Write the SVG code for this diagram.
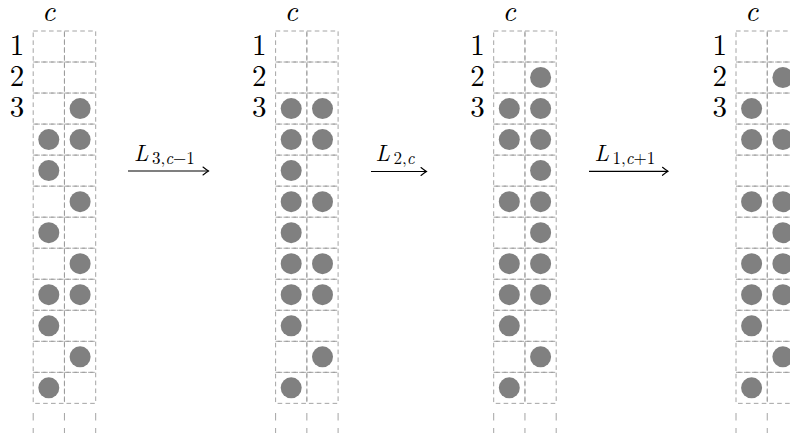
<svg xmlns="http://www.w3.org/2000/svg" xmlns:xlink="http://www.w3.org/1999/xlink" width="790" height="433" viewBox="0 0 790 433">
<style>
.cell{fill:none;stroke:#9a9a9a;stroke-width:0.9;stroke-dasharray:4.6 3.3}
.tail{fill:none;stroke:#9a9a9a;stroke-width:0.9;stroke-dasharray:7.5 7.5}
.st{fill:#808080}
.arr{fill:none;stroke:#000;stroke-width:1.2}
</style>
<defs>
<marker id="ah" markerUnits="userSpaceOnUse" markerWidth="12" markerHeight="12" viewBox="-7 -6 9 12" refX="0" refY="0" orient="auto">
<path d="M-5.5,-4 Q-1.8,-1 0,0 Q-1.8,1 -5.5,4" fill="none" stroke="#000" stroke-width="1.1" stroke-linecap="round"/>
</marker>
<g id="skel">
<rect class="cell" x="0" y="31" width="31.25" height="31.03"/><rect class="cell" x="31.25" y="31" width="31.25" height="31.03"/>
<rect class="cell" x="0" y="62.03" width="31.25" height="31.03"/><rect class="cell" x="31.25" y="62.03" width="31.25" height="31.03"/>
<rect class="cell" x="0" y="93.06" width="31.25" height="31.03"/><rect class="cell" x="31.25" y="93.06" width="31.25" height="31.03"/>
<rect class="cell" x="0" y="124.09" width="31.25" height="31.03"/><rect class="cell" x="31.25" y="124.09" width="31.25" height="31.03"/>
<rect class="cell" x="0" y="155.12" width="31.25" height="31.03"/><rect class="cell" x="31.25" y="155.12" width="31.25" height="31.03"/>
<rect class="cell" x="0" y="186.15" width="31.25" height="31.03"/><rect class="cell" x="31.25" y="186.15" width="31.25" height="31.03"/>
<rect class="cell" x="0" y="217.18" width="31.25" height="31.03"/><rect class="cell" x="31.25" y="217.18" width="31.25" height="31.03"/>
<rect class="cell" x="0" y="248.21" width="31.25" height="31.03"/><rect class="cell" x="31.25" y="248.21" width="31.25" height="31.03"/>
<rect class="cell" x="0" y="279.24" width="31.25" height="31.03"/><rect class="cell" x="31.25" y="279.24" width="31.25" height="31.03"/>
<rect class="cell" x="0" y="310.27" width="31.25" height="31.03"/><rect class="cell" x="31.25" y="310.27" width="31.25" height="31.03"/>
<rect class="cell" x="0" y="341.3" width="31.25" height="31.03"/><rect class="cell" x="31.25" y="341.3" width="31.25" height="31.03"/>
<rect class="cell" x="0" y="372.33" width="31.25" height="31.03"/><rect class="cell" x="31.25" y="372.33" width="31.25" height="31.03"/>
<path class="tail" d="M0,413V440M31.25,413V440M62.5,413V440"/>
<g font-family="Latin Modern Roman, Liberation Serif, serif" font-size="29" fill="#000">
<text x="15.6" y="21" text-anchor="middle" font-style="italic">c</text>
<text x="-9" y="55" text-anchor="end">1</text>
<text x="-9" y="86" text-anchor="end">2</text>
<text x="-9" y="117" text-anchor="end">3</text>
</g>
</g>
</defs>

<g id="grid1" transform="translate(33.2,0)">
<use xlink:href="#skel"/>
<circle class="st" cx="46.9" cy="108.6" r="10.5"/>
<circle class="st" cx="15.6" cy="139.6" r="10.5"/><circle class="st" cx="46.9" cy="139.6" r="10.5"/>
<circle class="st" cx="15.6" cy="170.6" r="10.5"/>
<circle class="st" cx="46.9" cy="201.7" r="10.5"/>
<circle class="st" cx="15.6" cy="232.7" r="10.5"/>
<circle class="st" cx="46.9" cy="263.7" r="10.5"/>
<circle class="st" cx="15.6" cy="294.7" r="10.5"/><circle class="st" cx="46.9" cy="294.7" r="10.5"/>
<circle class="st" cx="15.6" cy="325.8" r="10.5"/>
<circle class="st" cx="46.9" cy="356.8" r="10.5"/>
<circle class="st" cx="15.6" cy="387.8" r="10.5"/>
</g>

<g id="grid2" transform="translate(275.6,0)">
<use xlink:href="#skel"/>
<circle class="st" cx="15.6" cy="108.6" r="10.5"/><circle class="st" cx="46.9" cy="108.6" r="10.5"/>
<circle class="st" cx="15.6" cy="139.6" r="10.5"/><circle class="st" cx="46.9" cy="139.6" r="10.5"/>
<circle class="st" cx="15.6" cy="170.6" r="10.5"/>
<circle class="st" cx="15.6" cy="201.7" r="10.5"/><circle class="st" cx="46.9" cy="201.7" r="10.5"/>
<circle class="st" cx="15.6" cy="232.7" r="10.5"/>
<circle class="st" cx="15.6" cy="263.7" r="10.5"/><circle class="st" cx="46.9" cy="263.7" r="10.5"/>
<circle class="st" cx="15.6" cy="294.7" r="10.5"/><circle class="st" cx="46.9" cy="294.7" r="10.5"/>
<circle class="st" cx="15.6" cy="325.8" r="10.5"/>
<circle class="st" cx="46.9" cy="356.8" r="10.5"/>
<circle class="st" cx="15.6" cy="387.8" r="10.5"/>
</g>

<g id="grid3" transform="translate(493.7,0)">
<use xlink:href="#skel"/>
<circle class="st" cx="46.9" cy="77.5" r="10.5"/>
<circle class="st" cx="15.6" cy="108.6" r="10.5"/><circle class="st" cx="46.9" cy="108.6" r="10.5"/>
<circle class="st" cx="15.6" cy="139.6" r="10.5"/><circle class="st" cx="46.9" cy="139.6" r="10.5"/>
<circle class="st" cx="46.9" cy="170.6" r="10.5"/>
<circle class="st" cx="15.6" cy="201.7" r="10.5"/><circle class="st" cx="46.9" cy="201.7" r="10.5"/>
<circle class="st" cx="46.9" cy="232.7" r="10.5"/>
<circle class="st" cx="15.6" cy="263.7" r="10.5"/><circle class="st" cx="46.9" cy="263.7" r="10.5"/>
<circle class="st" cx="15.6" cy="294.7" r="10.5"/><circle class="st" cx="46.9" cy="294.7" r="10.5"/>
<circle class="st" cx="15.6" cy="325.8" r="10.5"/>
<circle class="st" cx="46.9" cy="356.8" r="10.5"/>
<circle class="st" cx="15.6" cy="387.8" r="10.5"/>
</g>

<g id="grid4" transform="translate(736,0)">
<use xlink:href="#skel"/>
<circle class="st" cx="46.9" cy="77.5" r="10.5"/>
<circle class="st" cx="15.6" cy="108.6" r="10.5"/>
<circle class="st" cx="15.6" cy="139.6" r="10.5"/><circle class="st" cx="46.9" cy="139.6" r="10.5"/>
<circle class="st" cx="15.6" cy="201.7" r="10.5"/><circle class="st" cx="46.9" cy="201.7" r="10.5"/>
<circle class="st" cx="46.9" cy="232.7" r="10.5"/>
<circle class="st" cx="15.6" cy="263.7" r="10.5"/><circle class="st" cx="46.9" cy="263.7" r="10.5"/>
<circle class="st" cx="15.6" cy="294.7" r="10.5"/><circle class="st" cx="46.9" cy="294.7" r="10.5"/>
<circle class="st" cx="15.6" cy="325.8" r="10.5"/>
<circle class="st" cx="46.9" cy="356.8" r="10.5"/>
<circle class="st" cx="15.6" cy="387.8" r="10.5"/>
</g>

<g id="connectors" font-family="Latin Modern Roman, Liberation Serif, serif" fill="#000">
<g id="arrow1">
<path class="arr" d="M128,171H208.5" marker-end="url(#ah)"/>
<text x="134" y="160.5" font-size="23" font-style="italic">L</text>
<text x="152" y="163.5" font-size="17">3,<tspan font-style="italic">c</tspan>−1</text>
</g>
<g id="arrow2">
<path class="arr" d="M371,171.5H426.5" marker-end="url(#ah)"/>
<text x="375.5" y="160.5" font-size="23" font-style="italic">L</text>
<text x="393.5" y="163.5" font-size="17">2,<tspan font-style="italic">c</tspan></text>
</g>
<g id="arrow3">
<path class="arr" d="M589,171.3H668" marker-end="url(#ah)"/>
<text x="594.5" y="161" font-size="23" font-style="italic">L</text>
<text x="612.5" y="164" font-size="17">1,<tspan font-style="italic">c</tspan>+1</text>
</g>
</g>
</svg>
